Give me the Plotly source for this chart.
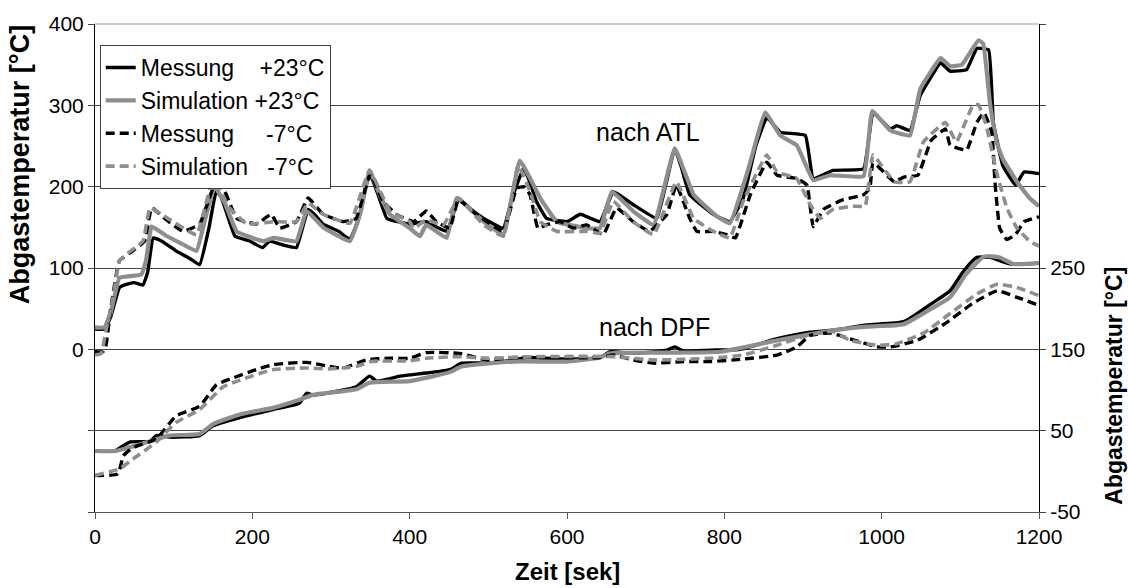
import plotly.graph_objects as go

# --- Abgastemperatur nach ATL (linke Achse) ---
t_mess23_atl = [0, 12, 20, 31, 40, 50, 61, 67, 74, 85, 103, 120, 133, 145, 154, 160, 170, 178, 197, 213, 222, 240, 256, 264, 271, 280, 290, 310, 324, 335, 349, 360, 371, 385, 400, 421, 435, 447, 455, 462, 478, 494, 519, 530, 545, 553, 561, 574, 600, 617, 642, 659, 684, 714, 725, 737, 745, 756, 786, 807, 824, 840, 854, 871, 903, 913, 938, 977, 989, 1011, 1019, 1036, 1049, 1075, 1087, 1108, 1121, 1136, 1142, 1154, 1170, 1181, 1200]
y_mess23_atl = [25, 25, 40, 76, 80, 82, 79, 95, 137, 133, 121, 112, 104, 150, 194, 188, 160, 139, 133, 125, 133, 128, 125, 150, 172, 165, 154, 145, 135, 160, 216, 190, 161, 157, 154, 157, 150, 145, 165, 186, 172, 161, 149, 185, 223, 205, 182, 161, 157, 166, 157, 194, 178, 161, 200, 247, 225, 190, 166, 157, 186, 250, 285, 267, 263, 210, 220, 222, 291, 271, 275, 269, 312, 352, 342, 344, 370, 368, 279, 226, 202, 218, 216]

t_sim23_atl = [0, 12, 20, 31, 45, 59, 65, 72, 90, 110, 129, 140, 152, 165, 180, 197, 214, 227, 256, 269, 290, 324, 338, 349, 362, 375, 400, 413, 421, 447, 460, 494, 519, 540, 566, 587, 625, 642, 657, 684, 710, 737, 761, 790, 807, 830, 852, 871, 892, 913, 934, 977, 988, 1011, 1036, 1049, 1075, 1087, 1102, 1123, 1129, 1138, 1146, 1154, 1172, 1188, 1200]
y_sim23_atl = [27, 27, 45, 88, 90, 92, 110, 151, 140, 130, 121, 160, 200, 180, 145, 138, 133, 137, 133, 170, 150, 133, 170, 220, 190, 166, 149, 139, 153, 137, 186, 157, 141, 232, 186, 157, 149, 149, 194, 170, 153, 247, 190, 164, 155, 220, 291, 263, 251, 208, 214, 213, 293, 269, 263, 320, 358, 348, 350, 380, 376, 300, 255, 234, 206, 186, 176]

t_mess7_atl = [0, 10, 14, 20, 31, 48, 63, 72, 91, 112, 133, 152, 163, 180, 205, 224, 235, 256, 271, 290, 315, 332, 350, 366, 383, 405, 421, 434, 451, 462, 485, 519, 536, 545, 553, 563, 574, 591, 608, 625, 646, 663, 684, 705, 727, 739, 756, 765, 786, 803, 814, 833, 854, 867, 892, 905, 913, 926, 951, 977, 985, 989, 1016, 1029, 1046, 1063, 1081, 1087, 1108, 1121, 1130, 1140, 1144, 1150, 1159, 1170, 1181, 1200]
y_mess7_atl = [-3, -3, 5, 50, 109, 121, 133, 174, 159, 145, 154, 202, 198, 161, 154, 166, 149, 157, 186, 166, 157, 161, 216, 182, 166, 157, 170, 157, 149, 184, 166, 145, 198, 200, 190, 149, 153, 157, 149, 153, 141, 174, 157, 145, 166, 202, 161, 145, 145, 141, 137, 190, 230, 214, 210, 202, 151, 172, 184, 190, 198, 230, 206, 212, 214, 257, 271, 251, 245, 279, 291, 267, 206, 149, 135, 141, 157, 163]

t_sim7_atl = [0, 8, 14, 23, 31, 40, 61, 70, 91, 129, 150, 171, 193, 227, 256, 271, 290, 324, 349, 375, 400, 405, 421, 443, 462, 494, 519, 538, 553, 566, 587, 625, 642, 659, 684, 710, 739, 761, 786, 807, 824, 854, 867, 892, 909, 922, 938, 964, 979, 989, 1016, 1036, 1053, 1081, 1095, 1116, 1123, 1133, 1146, 1159, 1172, 1188, 1200]
y_sim7_atl = [-7, -5, 23, 64, 109, 117, 133, 174, 162, 141, 208, 174, 154, 157, 157, 180, 166, 155, 220, 170, 157, 149, 159, 153, 186, 153, 139, 226, 194, 157, 145, 145, 143, 182, 157, 141, 206, 161, 145, 137, 182, 239, 218, 210, 178, 161, 172, 176, 176, 239, 206, 206, 255, 279, 255, 300, 301, 275, 218, 174, 149, 133, 127]

# --- Abgastemperatur nach DPF (rechte Achse) ---
t_mess23_dpf = [0, 25, 44, 70, 78, 95, 133, 150, 184, 226, 260, 269, 277, 332, 349, 358, 388, 451, 466, 498, 532, 549, 600, 642, 655, 684, 727, 737, 748, 782, 820, 867, 909, 943, 981, 1028, 1063, 1087, 1104, 1121, 1138, 1163, 1200]
y_mess23_dpf = [25, 25, 36, 37, 44, 42, 44, 56, 66, 76, 84, 96, 94, 104, 117, 111, 117, 125, 133, 133, 137, 140, 138, 140, 147, 145, 149, 153, 148, 149, 150, 163, 171, 174, 180, 184, 206, 222, 246, 263, 263, 255, 256]

t_sim23_dpf = [0, 25, 60, 95, 133, 150, 184, 226, 260, 277, 332, 349, 400, 451, 466, 532, 600, 642, 655, 727, 794, 867, 943, 981, 1028, 1063, 1087, 1107, 1130, 1150, 1167, 1200]
y_sim23_dpf = [25, 25, 34, 44, 46, 58, 70, 78, 88, 94, 101, 109, 111, 122, 129, 135, 135, 140, 145, 146, 147, 161, 174, 178, 181, 200, 214, 242, 264, 263, 255, 256]

t_mess7_dpf = [0, 29, 36, 48, 78, 103, 133, 154, 176, 205, 226, 269, 298, 315, 345, 376, 400, 421, 463, 498, 532, 642, 659, 684, 710, 748, 782, 824, 867, 892, 909, 934, 960, 994, 1011, 1045, 1081, 1115, 1147, 1172, 1200]
y_mess7_dpf = [-5, -3, 19, 29, 40, 68, 80, 106, 115, 125, 131, 134, 129, 127, 137, 139, 139, 146, 145, 137, 140, 140, 143, 137, 133, 135, 135, 138, 143, 153, 167, 170, 163, 153, 153, 161, 182, 206, 222, 214, 204]

t_sim7_dpf = [0, 31, 48, 78, 103, 133, 163, 184, 226, 269, 298, 332, 351, 400, 421, 463, 500, 560, 659, 710, 782, 824, 867, 909, 938, 960, 994, 1019, 1053, 1087, 1121, 1147, 1172, 1200]
y_sim7_dpf = [-5, 3, 15, 36, 60, 76, 104, 112, 125, 127, 126, 129, 135, 136, 139, 141, 139, 141, 141, 137, 139, 143, 155, 168, 172, 161, 155, 157, 170, 194, 218, 230, 226, 216]

series = [
    ("Messung\u00a0\u00a0\u00a0\u00a0+23°C", "#000000", 3.4, "solid", t_mess23_atl, y_mess23_atl, t_mess23_dpf, y_mess23_dpf),
    ("Simulation\u00a0+23°C", "#8e8e8e", 4.2, "solid", t_sim23_atl, y_sim23_atl, t_sim23_dpf, y_sim23_dpf),
    ("Messung\u00a0\u00a0\u00a0\u00a0\u00a0-7°C", "#000000", 3.4, "9px,5px", t_mess7_atl, y_mess7_atl, t_mess7_dpf, y_mess7_dpf),
    ("Simulation\u00a0\u00a0\u00a0-7°C", "#8e8e8e", 3.6, "9px,5px", t_sim7_atl, y_sim7_atl, t_sim7_dpf, y_sim7_dpf),
]

fig = go.Figure()
for i, (name, color, width, dash, ta, ya, td, yd) in enumerate(series):
    fig.add_trace(go.Scatter(x=ta, y=ya, mode="lines", name=name,
                             line=dict(color=color, width=width, dash=dash,
                                       shape="spline", smoothing=0.3),
                             legendgroup=f"g{i}", showlegend=True, yaxis="y"))
    fig.add_trace(go.Scatter(x=td, y=yd, mode="lines", name=name,
                             line=dict(color=color, width=width, dash=dash,
                                       shape="spline", smoothing=0.5),
                             legendgroup=f"g{i}", showlegend=False, yaxis="y2"))

font_family = "Liberation Sans, Arial, sans-serif"
tick_font = dict(family=font_family, size=21, color="#000000")

fig.update_layout(
    width=1128, height=588,
    margin=dict(l=95, r=89, t=21, b=76),
    paper_bgcolor="white", plot_bgcolor="white",
    font=dict(family=font_family, color="#000000"),
    showlegend=True,
    legend=dict(
        x=0.005, y=0.957, xanchor="left", yanchor="top",
        bgcolor="white", bordercolor="#404040", borderwidth=1,
        font=dict(family=font_family, size=23, color="#000000"),
        tracegroupgap=0, itemwidth=30,
    ),
    xaxis=dict(
        range=[0, 1200], tickvals=[0, 200, 400, 600, 800, 1000, 1200],
        ticks="outside", ticklen=6, tickcolor="#555555",
        showline=True, linecolor="#555555", linewidth=1,
        showgrid=False, zeroline=False, tickfont=tick_font,
    ),
    yaxis=dict(
        range=[-200, 400], tickvals=[-200, -100, 0, 100, 200, 300, 400],
        ticktext=["", "", "0", "100", "200", "300", "400"],
        ticks="outside", ticklen=6, tickcolor="#444444",
        showline=True, linecolor="#000000", linewidth=1,
        showgrid=True, gridcolor="#444444", gridwidth=1,
        zeroline=False, tickfont=tick_font,
    ),
    yaxis2=dict(
        range=[-50, 550], overlaying="y", side="right",
        tickvals=[-50, 50, 150, 250, 350, 450, 550],
        ticktext=["-50", "50", "150", "250", "", "", ""],
        ticks="outside", ticklen=6, tickcolor="#444444",
        showline=True, linecolor="#000000", linewidth=1,
        showgrid=False, zeroline=False, tickfont=tick_font,
    ),
    shapes=[dict(type="line", xref="paper", yref="paper", x0=0, x1=1, y0=1, y1=1,
                 line=dict(color="#bdbdbd", width=1.5))],
    annotations=[
        dict(text="nach ATL", x=703, y=267, xref="x", yref="y", showarrow=False,
             font=dict(family=font_family, size=25)),
        dict(text="nach DPF", x=711, y=28, xref="x", yref="y", showarrow=False,
             font=dict(family=font_family, size=25)),
        dict(text="<b>Zeit [sek]</b>", x=0.5, y=-0.122, xref="paper", yref="paper",
             showarrow=False, yanchor="middle",
             font=dict(family=font_family, size=24)),
        dict(text="<b>Abgastemperatur [°C]</b>", x=-0.0798, y=0.712, xref="paper", yref="paper",
             showarrow=False, textangle=-90, xanchor="center", yanchor="middle",
             font=dict(family=font_family, size=27)),
        dict(text="<b>Abgastemperatur [°C]</b>", x=1.0795, y=0.259, xref="paper", yref="paper",
             showarrow=False, textangle=-90, xanchor="center", yanchor="middle",
             font=dict(family=font_family, size=23)),
    ],
)

fig.write_html("out.html")
